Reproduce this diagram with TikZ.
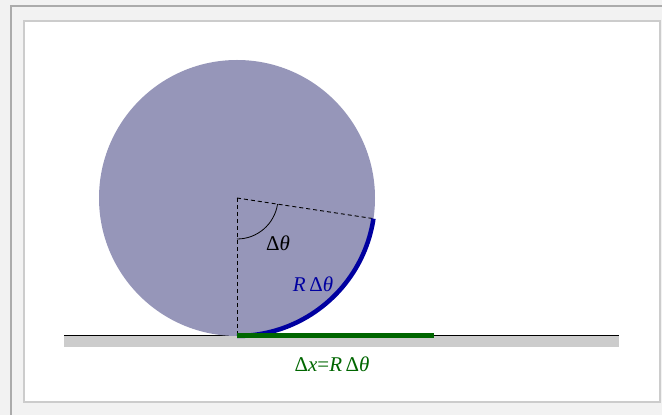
\documentclass[tikz,border=0pt]{standalone}
\usepackage{fontspec}
\setmainfont{Liberation Serif}
\usetikzlibrary{calc}
\definecolor{scheibe}{HTML}{9696B9}
\definecolor{bogenblau}{HTML}{0000A0}
\definecolor{strecke}{HTML}{006600}
\begin{document}
\begin{tikzpicture}[
    x=1pt, y=1pt,
    every node/.style={font=\fontsize{21}{24}\selectfont, inner sep=0pt},
    hilfslinie/.style={line width=0.9pt, dash pattern=on 4pt off 3pt}
]

% --- Rahmen: ganze Flaeche 662 x 415 (Pixel als pt) ---
\useasboundingbox (0,0) rectangle (662,415);
\fill[black!5] (0,0) rectangle (662,415);
\draw[black!33, line width=2pt] (11,-20) rectangle (690,409);
\draw[black!20, line width=2pt, fill=white] (24,13) rectangle (660,394);

% --- Punkte: Mittelpunkt O, Auflagepunkt P, Bogenende Q, Streckenende S ---
% R = 138, Winkel = 81.4 Grad
\coordinate (O) at (237,217);
\coordinate (P) at (237,79);
\coordinate (Q) at ($(O)+(-8.6:138)$);
\coordinate (S) at (434,79);

% --- Boden ---
\fill[black!20] (64,67.5) rectangle (619,79);
\draw[black, line width=1pt] (64,79.3) -- (619,79.3);

% --- Scheibe ---
\fill[scheibe] (O) circle (138);

% --- Hilfslinien und Winkelbogen ---
\draw[hilfslinie] (O) -- (P);
\draw[hilfslinie] (O) -- (Q);
\draw[line width=0.8pt] ($(O)+(0,-41)$) arc (-90:-8.6:41);

% --- abgerollter Bogen und Strecke ---
\draw[bogenblau, line width=4.5pt] (P) arc (-90:-8.6:138);
\draw[strecke, line width=5pt] (P) -- (S);

% --- Beschriftungen ---
\node (winkel) at (278,172) {Δ\textit{θ}};
\node[text=bogenblau] (bogen) at (313,131) {\textit{R}\,Δ\textit{θ}};
\node[text=strecke] (weg) at (332,51) {Δ\textit{x}=\textit{R}\,Δ\textit{θ}};

\end{tikzpicture}
\end{document}
